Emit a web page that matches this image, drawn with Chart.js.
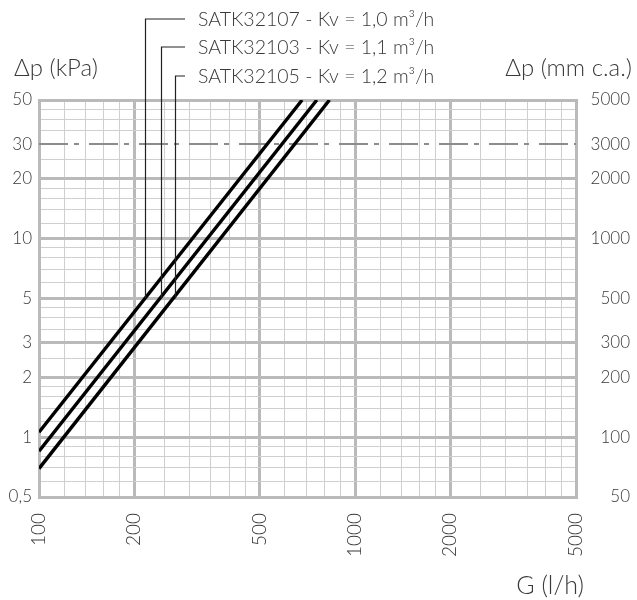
<!DOCTYPE html>
<html>
<head>
<meta charset="utf-8">
<script src="https://cdn.jsdelivr.net/npm/chart.js@4.4.1/dist/chart.umd.min.js"></script>
<style>
  body { margin: 0; background: #fff; }
  canvas { display: block; }
</style>
</head>
<body>
<canvas id="grafico" width="637" height="600"></canvas>
<script>
// valvole e curve (G in l/h, dp in kPa)
const models = ['SATK32107', 'SATK32103', 'SATK32105'];
const kvLabels = ['1,0', '1,1', '1,2'];
const flowG = [[100, 680], [100, 757], [100, 830]];
const dropKPa = [[1.06, 50], [0.85, 50], [0.695, 50]];

// linea del dp massimo
const maxDrop = 30;

// richiami delle etichette: partono dalla curva a dp = 5 kPa
const leaderG = [216, 244, 269];
const leaderDrop = 5;

const xTicks = [100, 120, 140, 160, 180, 200, 250, 300, 350, 400, 450, 500,
  600, 700, 800, 900, 1000, 1200, 1400, 1600, 1800, 2000, 2500, 3000, 3500,
  4000, 4500, 5000];
const xMajor = [100, 200, 500, 1000, 2000, 5000];

const yTicks = [0.5, 0.6, 0.7, 0.8, 0.9, 1, 1.2, 1.4, 1.6, 1.8, 2, 2.5, 3,
  3.5, 4, 4.5, 5, 6, 7, 8, 9, 10, 12, 14, 16, 18, 20, 25, 30, 35, 40, 45, 50];
const yMajor = [0.5, 1, 2, 3, 5, 10, 20, 50];
const yLabels = [0.5, 1, 2, 3, 5, 10, 20, 30, 50];

const mmTicks = [50, 100, 200, 300, 500, 1000, 2000, 3000, 5000];

const FONT = 'Lato, "Open Sans", sans-serif';
const TEXT = '#3a3a3a';
const MAJOR = '#bababa';
const MINOR = '#cfcfcf';

const datasets = models.map((m, i) => ({
  label: m,
  data: flowG[i].map((g, j) => ({ x: g, y: dropKPa[i][j] })),
  borderColor: '#000',
  borderWidth: 3.4,
  pointRadius: 0,
  tension: 0
}));
datasets.push({
  label: 'dp max',
  data: [{ x: xTicks[0], y: maxDrop }, { x: xTicks[xTicks.length - 1], y: maxDrop }],
  borderColor: '#8c8c8c',
  borderWidth: 2,
  borderDash: [29, 6, 5, 10],
  pointRadius: 0
});

const annotazioni = {
  id: 'annotazioni',
  afterDatasetsDraw(chart) {
    const ctx = chart.ctx;
    const x = chart.scales.x, y = chart.scales.y;
    const rowY = [19, 47, 76];
    ctx.save();
    ctx.strokeStyle = '#222';
    ctx.lineWidth = 1.2;
    leaderG.forEach((g, i) => {
      const px = Math.round(x.getPixelForValue(g)) + 0.5;
      ctx.beginPath();
      ctx.moveTo(px, y.getPixelForValue(leaderDrop));
      ctx.lineTo(px, rowY[i]);
      ctx.lineTo(185, rowY[i]);
      ctx.stroke();
    });
    ctx.fillStyle = TEXT;
    ctx.textBaseline = 'middle';
    ctx.font = '300 19.5px ' + FONT;
    ctx.textAlign = 'left';
    models.forEach((m, i) => {
      ctx.fillText(m + ' - Kv = ' + kvLabels[i] + ' m³/h', 198, rowY[i] + 1);
    });
    ctx.font = '300 24px ' + FONT;
    ctx.fillText('Δp (kPa)', 14, 68);
    ctx.textAlign = 'right';
    ctx.fillText('Δp (mm c.a.)', 632, 68);
    ctx.font = '300 25px ' + FONT;
    ctx.fillText('G (l/h)', 584, 586);
    ctx.restore();
  }
};

new Chart(document.getElementById('grafico'), {
  type: 'line',
  data: { datasets },
  options: {
    responsive: false,
    devicePixelRatio: 1,
    animation: false,
    layout: { padding: { top: 100, right: 7, left: 0, bottom: 0 } },
    plugins: { legend: { display: false }, tooltip: { enabled: false } },
    scales: {
      x: {
        type: 'logarithmic',
        min: 100,
        max: 5000,
        afterBuildTicks: s => { s.ticks = xTicks.map(v => ({ value: v })); },
        afterFit: s => { s.height = 103; },
        ticks: {
          autoSkip: false,
          minRotation: 90,
          maxRotation: 90,
          padding: 16,
          color: TEXT,
          font: { family: FONT, size: 19, weight: '300' },
          callback: v => xMajor.includes(v) ? String(v) : ''
        },
        grid: {
          drawTicks: false,
          color: c => c.tick && xMajor.includes(c.tick.value) ? MAJOR : MINOR,
          lineWidth: c => c.tick && xMajor.includes(c.tick.value) ? 3 : 1
        },
        border: { color: MAJOR, width: 3 }
      },
      y: {
        type: 'logarithmic',
        min: 0.5,
        max: 50,
        afterBuildTicks: s => { s.ticks = yTicks.map(v => ({ value: v })); },
        afterFit: s => { s.width = 39; },
        ticks: {
          autoSkip: false,
          padding: 7,
          color: TEXT,
          font: { family: FONT, size: 17, weight: '300' },
          callback: v => yLabels.includes(v) ? String(v).replace('.', ',') : ''
        },
        grid: {
          drawTicks: false,
          color: c => {
            if (!c.tick) return MINOR;
            if (c.tick.value === maxDrop) return 'rgba(0,0,0,0)';
            return yMajor.includes(c.tick.value) ? MAJOR : MINOR;
          },
          lineWidth: c => c.tick && yMajor.includes(c.tick.value) ? 3 : 1
        },
        border: { color: MAJOR, width: 3 }
      },
      y2: {
        type: 'logarithmic',
        position: 'right',
        min: 50,
        max: 5000,
        afterBuildTicks: s => { s.ticks = mmTicks.map(v => ({ value: v })); },
        afterFit: s => { s.width = 54; },
        ticks: {
          autoSkip: false,
          crossAlign: 'far',
          color: TEXT,
          font: { family: FONT, size: 17, weight: '300' },
          callback: v => String(v)
        },
        grid: { display: false, drawTicks: false },
        border: { color: MAJOR, width: 3 }
      }
    }
  },
  plugins: [annotazioni]
});
</script>
</body>
</html>
